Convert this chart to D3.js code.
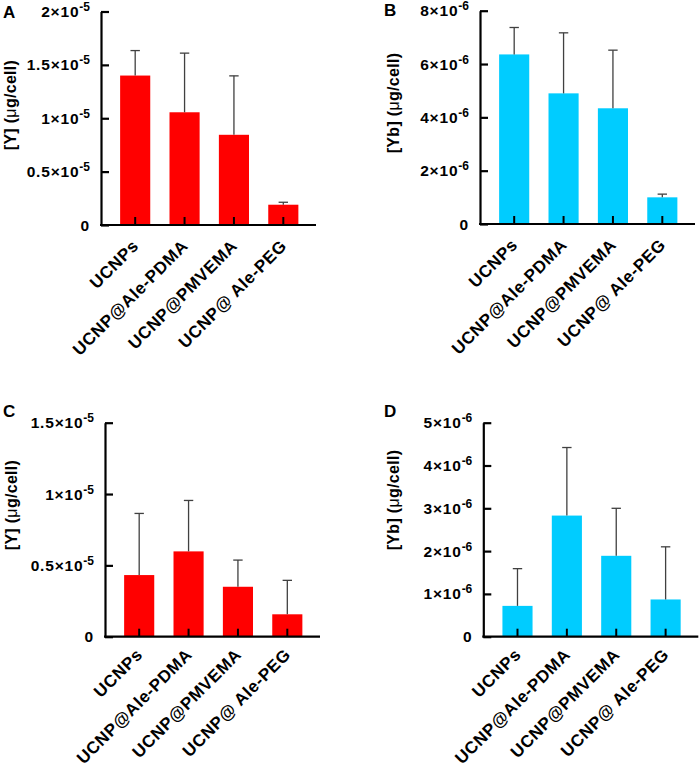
<!DOCTYPE html>
<html>
<head>
<meta charset="utf-8">
<script src="https://cdn.jsdelivr.net/npm/d3@7"></script>
<style>
  html, body { margin: 0; padding: 0; background: #fff; }
  svg { display: block; font-family: "Liberation Sans", Arial, sans-serif; }
</style>
</head>
<body>
<svg id="chart" width="700" height="769"></svg>
<script>
// ---------------- data ----------------
const categories = ["UCNPs", "UCNP@Ale-PDMA", "UCNP@PMVEMA", "UCNP@ Ale-PEG"];

// Panel A: [Y] (µg/cell)
const meanA = [1.40e-5, 1.056e-5, 0.845e-5, 0.19e-5];
const sdA   = [0.234e-5, 0.554e-5, 0.552e-5, 0.023e-5];
// Panel B: [Yb] (µg/cell)
const meanB = [6.36e-6, 4.90e-6, 4.34e-6, 1.00e-6];
const sdB   = [1.01e-6, 2.27e-6, 2.18e-6, 0.12e-6];
// Panel C: [Y] (µg/cell)
const meanC = [0.432e-5, 0.598e-5, 0.350e-5, 0.157e-5];
const sdC   = [0.432e-5, 0.357e-5, 0.187e-5, 0.238e-5];
// Panel D: [Yb] (µg/cell)
const meanD = [0.72e-6, 2.83e-6, 1.89e-6, 0.87e-6];
const sdD   = [0.87e-6, 1.59e-6, 1.11e-6, 1.23e-6];

// y-axis ticks and labels ([mantissa, exponent])
const ticksA = [0, 0.5e-5, 1e-5, 1.5e-5, 2e-5];
const tickLabelsA = [["0", ""], ["0.5×10", "-5"], ["1×10", "-5"], ["1.5×10", "-5"], ["2×10", "-5"]];
const ticksB = [0, 2e-6, 4e-6, 6e-6, 8e-6];
const tickLabelsB = [["0", ""], ["2×10", "-6"], ["4×10", "-6"], ["6×10", "-6"], ["8×10", "-6"]];
const ticksC = [0, 0.5e-5, 1e-5, 1.5e-5];
const tickLabelsC = [["0", ""], ["0.5×10", "-5"], ["1×10", "-5"], ["1.5×10", "-5"]];
const ticksD = [0, 1e-6, 2e-6, 3e-6, 4e-6, 5e-6];
const tickLabelsD = [["0", ""], ["1×10", "-6"], ["2×10", "-6"], ["3×10", "-6"], ["4×10", "-6"], ["5×10", "-6"]];

const yMaxA = 2e-5, yMaxB = 8e-6, yMaxC = 1.5e-5, yMaxD = 5e-6;

const RED = "#ff0000";
const CYAN = "#00ccff";

// ---------------- layout ----------------
const panels = [
  { letter: "A", mean: meanA, sd: sdA, ticks: ticksA, labels: tickLabelsA, yMax: yMaxA, color: RED,
    title: "[Y]", axisX: 101, top: 11.5, zero: 225, letterX: 3, letterY: 18, titleX: 16, titleY: 105, xlabDy: 22 },
  { letter: "B", mean: meanB, sd: sdB, ticks: ticksB, labels: tickLabelsB, yMax: yMaxB, color: CYAN,
    title: "[Yb]", axisX: 480, top: 10.7, zero: 224, letterX: 384, letterY: 16, titleX: 399, titleY: 103, xlabDy: 22 },
  { letter: "C", mean: meanC, sd: sdC, ticks: ticksC, labels: tickLabelsC, yMax: yMaxC, color: RED,
    title: "[Y]", axisX: 105, top: 422.7, zero: 636.7, letterX: 3, letterY: 417, titleX: 17, titleY: 505, xlabDy: 19 },
  { letter: "D", mean: meanD, sd: sdD, ticks: ticksD, labels: tickLabelsD, yMax: yMaxD, color: CYAN,
    title: "[Yb]", axisX: 483.3, top: 422.7, zero: 636.7, letterX: 384, letterY: 417, titleX: 399, titleY: 500, xlabDy: 19 }
];

const svg = d3.select("#chart");
const AXIS_LEN = 215;

panels.forEach(p => {
  const g = svg.append("g");
  const y = d3.scaleLinear().domain([0, p.yMax]).range([p.zero, p.top]);
  const x = d3.scaleBand().domain(categories)
    .range([p.axisX + 9.5, p.axisX + 207]).paddingInner(0.39).paddingOuter(0.195);

  // bars
  g.selectAll("rect.bar").data(categories).enter().append("rect")
    .attr("class", "bar")
    .attr("x", d => x(d))
    .attr("width", x.bandwidth())
    .attr("y", (d, i) => y(p.mean[i]))
    .attr("height", (d, i) => y(0) - y(p.mean[i]))
    .attr("fill", p.color);

  // error bars (upper only)
  const eb = g.selectAll("g.err").data(categories).enter().append("g").attr("class", "err");
  eb.append("line")
    .attr("x1", d => x(d) + x.bandwidth() / 2).attr("x2", d => x(d) + x.bandwidth() / 2)
    .attr("y1", (d, i) => y(p.mean[i])).attr("y2", (d, i) => y(p.mean[i] + p.sd[i]))
    .attr("stroke", "#404040").attr("stroke-width", 1.3);
  eb.append("line")
    .attr("x1", d => x(d) + x.bandwidth() / 2 - 4.7).attr("x2", d => x(d) + x.bandwidth() / 2 + 4.7)
    .attr("y1", (d, i) => y(p.mean[i] + p.sd[i])).attr("y2", (d, i) => y(p.mean[i] + p.sd[i]))
    .attr("stroke", "#404040").attr("stroke-width", 1.3);

  // y axis
  const yAxis = d3.axisLeft(y).tickValues(p.ticks).tickSize(-8).tickSizeOuter(0).tickFormat("");
  const ya = g.append("g").attr("transform", `translate(${p.axisX},0)`).call(yAxis);
  ya.select(".domain").attr("stroke", "#000").attr("stroke-width", 2.2);
  ya.selectAll(".tick line").attr("stroke", "#000").attr("stroke-width", 2.2);

  // y tick labels with superscripts
  const tl = g.selectAll("text.ytl").data(p.ticks).enter().append("text")
    .attr("class", "ytl")
    .attr("x", p.axisX - 11)
    .attr("y", d => y(d))
    .attr("dy", "0.36em")
    .attr("text-anchor", "end")
    .attr("font-size", 15.5)
    .attr("letter-spacing", "0.8px")
    .attr("font-weight", "bold")
    .attr("fill", "#000");
  tl.append("tspan").text((d, i) => p.labels[i][0]);
  tl.filter((d, i) => p.labels[i][1] !== "")
    .append("tspan").attr("font-size", 12).attr("letter-spacing", "0px").attr("dy", "-0.5em")
    .text(d => p.labels[p.ticks.indexOf(d)][1]);

  // x axis: baseline line
  g.append("line")
    .attr("x1", p.axisX - 1).attr("x2", p.axisX + AXIS_LEN)
    .attr("y1", p.zero).attr("y2", p.zero)
    .attr("stroke", "#000").attr("stroke-width", 2.2);

  const xAxis = d3.axisBottom(x).tickSize(-8).tickSizeOuter(0);
  const xa = g.append("g").attr("transform", `translate(0,${p.zero})`).call(xAxis);
  xa.select(".domain").remove();
  xa.selectAll(".tick line").attr("stroke", "#000").attr("stroke-width", 2);
  xa.selectAll(".tick text")
    .attr("font-family", "'Liberation Sans', Arial, sans-serif")
    .attr("font-size", 17)
    .attr("letter-spacing", "0.6px")
    .attr("font-weight", "bold")
    .attr("fill", "#000")
    .attr("text-anchor", "end")
    .attr("dy", null)
    .attr("y", 0)
    .attr("transform", `translate(4.5,${p.xlabDy}) rotate(-45)`);

  // axis title
  const t = g.append("text")
    .attr("transform", `translate(${p.titleX},${p.titleY}) rotate(-90)`)
    .attr("text-anchor", "middle")
    .attr("font-size", 16)
    .attr("letter-spacing", "0.3px")
    .attr("font-weight", "bold")
    .attr("fill", "#000");
  t.append("tspan").text(p.title + " (");
  t.append("tspan").attr("font-weight", "normal").text("μ");
  t.append("tspan").text("g/cell)");

  // panel letter
  g.append("text")
    .attr("x", p.letterX).attr("y", p.letterY)
    .attr("font-size", 17).attr("font-weight", "bold").attr("fill", "#000")
    .text(p.letter);
});
</script>
</body>
</html>
